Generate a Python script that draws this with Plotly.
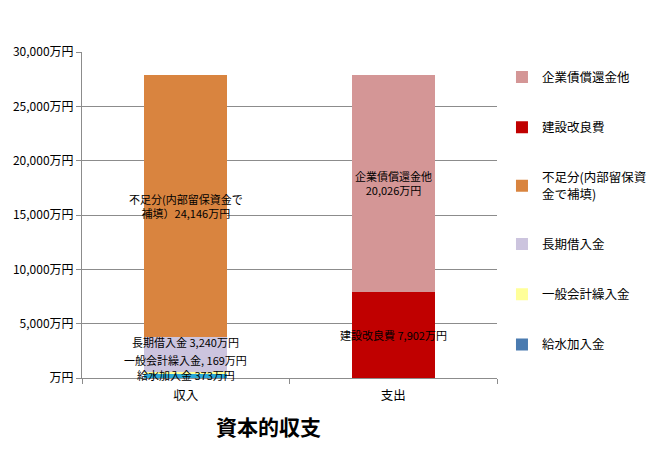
import plotly.graph_objects as go

categories = ["収入", "支出"]
series_names = ["給水加入金", "一般会計繰入金", "長期借入金", "不足分(内部留保資金で補填)", "建設改良費", "企業債償還金他"]
legend_names = ["給水加入金", "一般会計繰入金", "長期借入金", "不足分(内部留保資<br>金で補填)", "建設改良費", "企業債償還金他"]
income_values = [373, 169, 3240, 24146, None, None]
expense_values = [None, None, None, None, 7902, 20026]
bar_colors = ["#2aa8d8", "#ffff99", "#ccc4de", "#d9843f", "#c00000", "#d49696"]
legend_colors = ["#4a7bb0", "#ffff99", "#ccc4de", "#d9843f", "#c00000", "#d49696"]
label_texts = ["給水加入金 373万円", "一般会計繰入金, 169万円", "長期借入金 3,240万円",
               "不足分(内部留保資金で<br>補填）24,146万円", "建設改良費 7,902万円", "企業債償還金他<br>20,026万円"]
tick_vals = [0, 5000, 10000, 15000, 20000, 25000, 30000]
tick_text = ["万円", "5,000万円", "10,000万円", "15,000万円", "20,000万円", "25,000万円", "30,000万円"]

FONT = "Noto Sans CJK JP"
fig = go.Figure()
for i, name in enumerate(series_names):
    y = [income_values[i], expense_values[i]]
    fig.add_trace(go.Bar(x=categories, y=y, name=series_names[i], marker_color=bar_colors[i],
                         marker_line_width=0, showlegend=False, width=0.4))
# legend entries, top to bottom
for i in reversed(range(len(series_names))):
    fig.add_trace(go.Bar(x=[categories[0]], y=[None], name=legend_names[i], marker_color=legend_colors[i],
                         marker_line_width=0, legendgroup=f"g{i}", showlegend=True))

cum = 0
inc_bottoms = []
for v in income_values[:4]:
    inc_bottoms.append(cum)
    cum += v
anns = []
anns.append(dict(x=categories[0], y=income_values[0] / 2, text=label_texts[0], yshift=1))
anns.append(dict(x=categories[0], y=inc_bottoms[1] + income_values[1] / 2, text=label_texts[1], yshift=13))
anns.append(dict(x=categories[0], y=inc_bottoms[2] + income_values[2], text=label_texts[2], yanchor="top", yshift=5))
anns.append(dict(x=categories[0], y=inc_bottoms[3] + income_values[3] / 2, text=label_texts[3]))
anns.append(dict(x=categories[1], y=expense_values[4] / 2, text=label_texts[4]))
anns.append(dict(x=categories[1], y=expense_values[4] + expense_values[5] / 2, text=label_texts[5]))
for a in anns:
    a.update(showarrow=False, font=dict(family=FONT, size=11, color="#000"))
    a.setdefault("yanchor", "middle")
    fig.add_annotation(**a)

fig.add_annotation(x=0.45, xref="paper", y=-0.095, yref="paper", yanchor="top", text="<b>資本的収支</b>",
                   showarrow=False, font=dict(family=FONT, size=21, color="#000"))

fig.update_layout(
    barmode="stack", bargap=0.6,
    width=664, height=450,
    margin=dict(l=82, r=148, t=52, b=72),
    paper_bgcolor="white", plot_bgcolor="white",
    font=dict(family=FONT, size=12, color="#000"),
    legend=dict(x=1.012, y=0.968, xanchor="left", yanchor="top", traceorder="grouped",
                tracegroupgap=31, font=dict(size=12.5, family=FONT), itemwidth=30,
                bgcolor="rgba(0,0,0,0)"),
)
fig.update_yaxes(range=[0, 30000], tickvals=tick_vals, ticktext=tick_text, showgrid=True,
                 gridcolor="#8c8c8c", gridwidth=1, showline=True, linecolor="#8c8c8c",
                 ticks="outside", ticklen=5, tickcolor="#8c8c8c", zeroline=False,
                 tickfont=dict(size=12, family=FONT))
fig.update_xaxes(showline=True, linecolor="#8c8c8c", ticks="outside", tickson="boundaries",
                 ticklen=5, tickcolor="#8c8c8c", ticklabelstandoff=6,
                 tickfont=dict(size=12.5, family=FONT))

fig.write_html("out.html")
